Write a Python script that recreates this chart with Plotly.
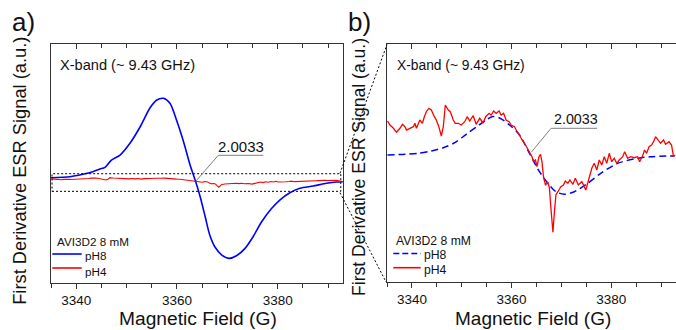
import plotly.graph_objects as go

# ---------------- data ----------------
# panel a: pH8 first-derivative ESR signal (arbitrary units)
field_pH8 = [3335.0, 3338.8, 3341.3, 3343.3, 3344.7, 3345.7, 3347.0, 3348.7, 3350.7, 3352.7,
             3354.6, 3356.0, 3357.3, 3358.6, 3359.9, 3361.2, 3362.6, 3363.6, 3364.6, 3365.6,
             3366.5, 3367.5, 3368.9, 3370.4, 3371.8, 3373.5, 3375.1, 3376.8, 3378.8, 3380.4,
             3382.4, 3384.4, 3387.0, 3389.7, 3391.7, 3392.9]
signal_pH8 = [176, 189, 221, 255, 291, 313, 410, 476, 635, 850,
              1094, 1203, 1226, 1160, 939, 674, 344, 145, -75, -340,
              -582, -737, -846, -890, -856, -758, -604, -406, -229, -119,
              -23, 36, 66, 102, 119, 123]

# pH4 signal (same units, used in both panels)
field_pH4 = [3335.1, 3335.6, 3336.3, 3336.9, 3337.6, 3338.1, 3338.6, 3338.9, 3339.6, 3340.3,
             3340.6, 3340.9, 3341.6, 3342.1, 3342.5, 3342.9, 3343.4, 3343.9, 3344.5, 3344.9,
             3345.4, 3345.9, 3346.3, 3346.7, 3347.3, 3347.7, 3348.3, 3348.7, 3349.3, 3349.9,
             3350.6, 3351.1, 3351.6, 3352.3, 3352.9, 3353.6, 3354.3, 3354.8, 3355.5, 3355.9,
             3356.4, 3356.9, 3357.5, 3357.9, 3358.4, 3358.9, 3359.5, 3359.9, 3360.6, 3361.1,
             3361.6, 3362.1, 3362.6, 3363.1, 3363.6, 3364.1, 3364.4, 3364.8, 3365.1, 3365.5,
             3365.8, 3366.1, 3366.4, 3366.8, 3367.3, 3367.6, 3367.9, 3368.3, 3368.6, 3368.9,
             3369.5, 3369.9, 3370.4, 3370.8, 3371.3, 3371.7, 3372.3, 3372.8, 3373.4, 3374.1,
             3374.9, 3375.6, 3376.1, 3376.6, 3377.1, 3377.6, 3378.1, 3378.6, 3379.1, 3379.6,
             3380.1, 3380.6, 3381.1, 3381.6, 3382.3, 3382.7, 3383.3, 3383.9, 3384.6, 3385.3,
             3385.7, 3386.3, 3386.7, 3387.1, 3387.6, 3388.1, 3388.5, 3388.9, 3389.4, 3389.9,
             3390.5, 3390.9, 3391.6, 3392.1, 3392.5, 3392.8]
signal_pH4 = [161, 157, 153.7, 149.7, 153.7, 157.7, 155.3, 152, 153.7, 155.3,
              158.7, 153.7, 162, 158.7, 165.3, 170.3, 173.7, 172, 165.3, 162,
              155.3, 146, 155.3, 177, 172, 170.3, 162, 158.7, 158.7, 157,
              160.3, 165.3, 161, 166.3, 157.7, 163.7, 159, 165.3, 168.7, 167,
              171, 168.7, 171, 167, 168.7, 162, 160.3, 157, 155.3, 150.3,
              147, 142, 138.7, 133.7, 128.7, 125.3, 120.3, 122, 115.3, 125.3,
              127.7, 120.3, 105.3, 97, 99.7, 93.7, 73.7, 49.7, 70.3, 87,
              92, 95.3, 97, 101, 98.7, 102, 97.7, 103.7, 97, 100.3,
              92, 103.7, 113.7, 118.7, 112, 122, 117, 125.3, 118.7, 128.7,
              120.3, 123.7, 118.7, 122, 125.3, 130.3, 123.7, 125.3, 124.3, 125.3,
              120.3, 126.3, 132, 128.7, 135.3, 137, 140.3, 145.3, 142, 138.7,
              142, 137.7, 140.3, 137, 125.3, 127]

# panel b: pH8 signal rescaled for comparison with pH4
field_pH8_b = [3335.1, 3338.6, 3341.3, 3343.9, 3346.3, 3348.6, 3350.9, 3353.3, 3354.6, 3356.2,
               3357.6, 3359.6, 3361.6, 3363.6, 3365.6, 3367.3, 3368.9, 3370.6, 3372.6, 3375.3,
               3377.9, 3381.3, 3384.6, 3387.9, 3392.6]
signal_pH8_b = [127, 127.7, 128.7, 131, 134.3, 139.3, 147.7, 156.3, 161, 165.5,
                164, 157, 147, 128.7, 110.3, 98.7, 90.3, 87.7, 90.3, 98.7,
                108.7, 118.7, 123, 125.3, 126]

x_range = [3335, 3393]
y_range_a = [-1216, 1944]
y_range_b = [0, 238]
zoom_box_y = [-4, 229]

x_ticks = [3340, 3360, 3380]
panel_labels = ["a)", "b)"]
band_text = "X-band (~ 9.43 GHz)"
legend_title = "AVI3D2 8 mM"
series_names = ["pH8", "pH4"]
g_text = "2.0033"
x_title = "Magnetic Field (G)"
y_title = "First Derivative ESR Signal (a.u.)"

# ---------------- figure ----------------
W, H = 676, 330
FONT = "Liberation Sans, Arial, sans-serif"
TXT = "#111111"
AX = "#333333"
BLUE = "#0000FF"
RED = "#FF0000"


def px(x):
    return x / W


def py(y):
    return 1 - y / H


fig = go.Figure()
fig.add_trace(go.Scatter(x=field_pH8, y=signal_pH8, xaxis="x", yaxis="y", mode="lines",
                         line=dict(color=BLUE, width=1.6, shape="spline", smoothing=0.8),
                         name=series_names[0], showlegend=False))
fig.add_trace(go.Scatter(x=field_pH4, y=signal_pH4, xaxis="x", yaxis="y", mode="lines",
                         line=dict(color=RED, width=1.1), name=series_names[1], showlegend=False))
fig.add_trace(go.Scatter(x=field_pH8_b, y=signal_pH8_b, xaxis="x2", yaxis="y2", mode="lines",
                         line=dict(color=BLUE, width=1.5, dash="7px,4px", shape="spline", smoothing=0.8),
                         name=series_names[0], showlegend=False))
fig.add_trace(go.Scatter(x=field_pH4, y=signal_pH4, xaxis="x2", yaxis="y2", mode="lines",
                         line=dict(color=RED, width=1.3), name=series_names[1], showlegend=False))
# empty traces so the top (inside-tick) axes get drawn
fig.add_trace(go.Scatter(x=[], y=[], xaxis="x3", yaxis="y", showlegend=False, hoverinfo="skip"))
fig.add_trace(go.Scatter(x=[], y=[], xaxis="x4", yaxis="y2", showlegend=False, hoverinfo="skip"))

dom_a = [px(51), px(343.3)]
dom_b = [px(387), 1.0]
dom_y = [py(283), py(44)]


def xax(domain, anchor):
    return dict(domain=domain, range=x_range, anchor=anchor, showline=True, linecolor=AX,
                linewidth=1.3, mirror=True, ticks="outside", ticklen=5, tickwidth=1,
                tickcolor=AX, tickvals=x_ticks, ticktext=[str(t) for t in x_ticks],
                tickfont=dict(family=FONT, size=13.5, color=TXT),
                minor=dict(dtick=5, tick0=3335, ticks="outside", ticklen=4, tickcolor=AX, tickwidth=1),
                showgrid=False, zeroline=False)


def xtop(over, anchor):
    return dict(overlaying=over, matches=over, anchor=anchor, side="top", range=x_range,
                showline=False, ticks="inside", ticklen=5, tickwidth=1, tickcolor=AX,
                tickvals=x_ticks, showticklabels=False,
                minor=dict(dtick=5, tick0=3335, ticks="inside", ticklen=4, tickcolor=AX, tickwidth=1),
                showgrid=False, zeroline=False)


def yax(domain, anchor, rng):
    return dict(domain=domain, range=rng, anchor=anchor, showline=True, linecolor=AX,
                linewidth=1.3, mirror=True, ticks="", showticklabels=False,
                showgrid=False, zeroline=False)


DOT = dict(color="#000", width=1, dash="2px,2px")
GRAY = dict(color="#808080", width=1)


def pline(x0, y0, x1, y1, line):
    return dict(type="line", xref="paper", yref="paper", x0=px(x0), y0=py(y0),
                x1=px(x1), y1=py(y1), line=line)


shapes = [
    # zoom box on panel a
    dict(type="rect", xref="x", yref="y", x0=3335.2, x1=3392.5, y0=zoom_box_y[0], y1=zoom_box_y[1],
         line=DOT),
    # connector lines to panel b
    pline(340, 173.3, 387, 44.5, DOT),
    pline(340, 192.7, 386, 282, DOT),
    # g-value leaders
    pline(218.3, 155.3, 263.3, 155.3, GRAY),
    pline(218.3, 155.3, 196, 181, GRAY),
    pline(551, 128.3, 597, 128.3, GRAY),
    pline(551, 128.3, 531.5, 152, GRAY),
    # legend keys
    pline(52.3, 254, 81.7, 254, dict(color=BLUE, width=1.6)),
    pline(52.3, 268, 81.7, 268, dict(color=RED, width=1.6)),
    pline(393.3, 253.5, 420.7, 253.5, dict(color=BLUE, width=1.6, dash="6px,3px")),
    pline(393.3, 267.7, 420.7, 267.7, dict(color=RED, width=1.6)),
]


def ann(text, x, y, size, xanchor="center", angle=0):
    return dict(text=text, xref="paper", yref="paper", x=px(x), y=py(y), xanchor=xanchor,
                yanchor="middle", showarrow=False, textangle=angle,
                font=dict(family=FONT, size=size, color=TXT))


annotations = [
    ann(panel_labels[0], 23, 22, 26),
    ann(panel_labels[1], 359, 22, 26),
    ann(band_text, 58.3, 65, 14.6, "left"),
    ann(band_text, 395, 65, 13.8, "left"),
    ann(g_text, 240.8, 146, 15),
    ann(g_text, 575.5, 119, 14.3),
    ann(legend_title, 55, 241.2, 11.7, "left"),
    ann(series_names[0], 82.7, 255, 11.7, "left"),
    ann(series_names[1], 82.7, 271.5, 11.7, "left"),
    ann(legend_title, 394, 241, 12.2, "left"),
    ann(series_names[0], 422, 254.6, 12.2, "left"),
    ann(series_names[1], 422, 269.5, 12.2, "left"),
    ann(x_title, 197.5, 318, 19.2),
    ann(x_title, 533, 318, 19),
    ann(y_title, 20, 170.8, 18.3, angle=-90),
    ann(y_title, 358.5, 167.5, 17.6, angle=-90),
]

fig.update_layout(
    width=W, height=H, margin=dict(l=0, r=0, t=0, b=0),
    paper_bgcolor="white", plot_bgcolor="white", showlegend=False,
    font=dict(family=FONT, color=TXT),
    xaxis=xax(dom_a, "y"), yaxis=yax(dom_y, "x", y_range_a),
    xaxis2=xax(dom_b, "y2"), yaxis2=yax([py(282), py(44)], "x2", y_range_b),
    xaxis3=xtop("x", "y"), xaxis4=xtop("x2", "y2"),
    shapes=shapes, annotations=annotations,
)

fig.write_html(
    "out.html",
    config={"displayModeBar": False},
    post_script="document.body.style.margin='0px';document.body.style.overflow='hidden';",
)
